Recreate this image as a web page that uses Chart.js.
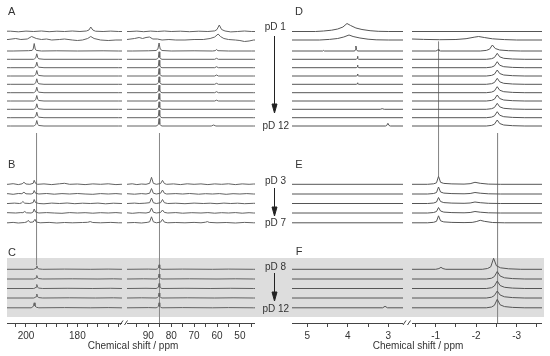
<!DOCTYPE html>
<html>
<head>
<meta charset="utf-8">
<script src="https://cdn.jsdelivr.net/npm/chart.js@4.4.0/dist/chart.umd.min.js"></script>
<style>
  body { margin: 0; background: #fff; }
  #wrap { position: relative; width: 550px; height: 356px; overflow: hidden; font-family: "Liberation Sans", Arial, sans-serif; }
  #wrap canvas { position: absolute; top: 0; }
  #band { position: absolute; left: 7px; top: 257.5px; width: 537px; height: 59px; background: #dddddd; }
  #notes { position: absolute; left: 0; top: 0; }
  #notes text { font-family: "Liberation Sans", Arial, sans-serif; fill: #333; }
</style>
</head>
<body>
<div id="wrap">
  <div id="band"></div>
  <canvas id="c13a" width="115" height="356" style="left:7px"></canvas>
  <canvas id="c13b" width="128" height="356" style="left:127px"></canvas>
  <canvas id="h1a" width="111" height="356" style="left:292px"></canvas>
  <canvas id="h1b" width="130" height="356" style="left:412px"></canvas>
  <svg id="notes" width="550" height="356">
    <g font-size="11">
      <text x="11.7" y="10.7" text-anchor="middle" dominant-baseline="central">A</text>
      <text x="11.7" y="164" text-anchor="middle" dominant-baseline="central">B</text>
      <text x="12" y="252.3" text-anchor="middle" dominant-baseline="central">C</text>
      <text x="299" y="10.7" text-anchor="middle" dominant-baseline="central">D</text>
      <text x="299" y="164" text-anchor="middle" dominant-baseline="central">E</text>
      <text x="299" y="251" text-anchor="middle" dominant-baseline="central">F</text>
    </g>
    <g font-size="10" text-anchor="middle" dominant-baseline="central">
      <text x="275.3" y="26.3">pD 1</text>
      <text x="275.8" y="125.7">pD 12</text>
      <text x="275.5" y="180">pD 3</text>
      <text x="275.5" y="222.7">pD 7</text>
      <text x="275.5" y="266">pD 8</text>
      <text x="275.8" y="308.3">pD 12</text>
      <text x="133" y="345">Chemical shift / ppm</text>
      <text x="418" y="345">Chemical shift / ppm</text>
    </g>
    <g stroke="#222" stroke-width="1" fill="#222">
      <line x1="274.5" y1="36" x2="274.5" y2="105"/>
      <polygon points="272,104 277,104 274.5,113"/>
      <line x1="274.5" y1="188" x2="274.5" y2="208"/>
      <polygon points="272,207 277,207 274.5,216"/>
      <line x1="274.5" y1="273" x2="274.5" y2="293"/>
      <polygon points="272,292 277,292 274.5,301"/>
    </g>
    <g stroke="#444" stroke-width="1">
      <line x1="120" y1="325" x2="123" y2="320.5"/>
      <line x1="124.5" y1="325" x2="127.5" y2="320.5"/>
      <line x1="403" y1="325" x2="406" y2="320.5"/>
      <line x1="407.5" y1="325" x2="410.5" y2="320.5"/>
    </g>
  </svg>
</div>
<script>
// DATA: each trace is a list of [ppm, intensity] points
const c13PanelA = [
  [[206,0.3],[203,-0.3],[200,0.4],[197,0],[194,0.5],[191,-0.2],[188,0.3],[185,0],[182,0.5],[179,0],[176.5,0.5],[175.5,1.5],[174.8,4.5],[174,1.5],[173,0.3],[170,0],[167,0.4],[164,0],
   [98,0],[95,0.4],[92,-0.2],[89,0.4],[86,0],[83,0.5],[80,0],[76,0.3],[72,-0.2],[68,0.3],[64,0],[61,0.6],[60,2],[59,6.5],[58,2],[56.5,0.5],[54,-0.4],[51,0],[48,0.5],[45,0]],
  [[207,0.5],[204,1.5],[202,0.5],[199.5,1],[197.8,3.5],[196,1.5],[194,0.5],[192,1],[190,0],[187,0.5],[185,1],[182,0],[180,-0.5],[178,0],[176,1.5],[174.8,3.5],[173.5,1.5],[171,0],[168,-0.5],[165,0],
   [99,0.5],[96,1.5],[94,2.5],[92.5,1.5],[91,2.5],[89.5,3],[88,1],[86,1],[84,0],[81,0.5],[78,0],[74,0],[70,0.5],[66,0.5],[63,1.5],[61,3],[59.5,6],[58.5,3.5],[57,1.5],[55,0.5],[52,0],[50,-0.5],[48,-1.5],[46,-1],[44,0]],
  [[205,0],[199,0.3],[197.6,0.6],[197.2,2],[196.8,7.5],[196.4,2],[196,0.6],[194,0],[188,0.2],[180,0],[170,0.2],[164,0],
   [97,0],[90,0.2],[86.6,0.5],[85.8,2],[85.3,8],[84.8,2],[84,0.5],[80,0],[70,0.2],[62,0],[60.8,0.3],[60.2,1.5],[59.6,0.3],[55,0],[45,0]],
  [[206,0],[197,0],[196.6,0.6],[196.2,1.5],[195.8,5.5],[195.4,1.5],[195,0.5],[193,0],[164,0],
   [98,0],[86.6,0],[86,0.6],[85.6,1.8],[85.3,7.5],[85,1.8],[84.6,0.6],[84,0],[61,0],[60.2,1],[59.4,0],[44,0]],
  [[206,0],[197,0],[196.6,0.6],[196.2,1.5],[195.8,5.5],[195.4,1.5],[195,0.5],[193,0],[164,0],
   [98,0],[86.6,0],[86,0.6],[85.6,1.8],[85.3,7.5],[85,1.8],[84.6,0.6],[84,0],[61,0],[60.2,1],[59.4,0],[44,0]],
  [[206,0],[197,0],[196.6,0.6],[196.2,1.5],[195.8,5.5],[195.4,1.5],[195,0.5],[193,0],[164,0],
   [98,0],[86.6,0],[86,0.6],[85.6,1.8],[85.3,7.5],[85,1.8],[84.6,0.6],[84,0],[61,0],[60.2,1],[59.4,0],[44,0]],
  [[206,0],[197,0],[196.6,0.6],[196.2,1.5],[195.8,5.5],[195.4,1.5],[195,0.5],[193,0],[164,0],
   [98,0],[86.6,0],[86,0.6],[85.6,1.8],[85.3,7.5],[85,1.8],[84.6,0.6],[84,0],[61,0],[60.2,1],[59.4,0],[44,0]],
  [[206,0],[197,0],[196.6,0.6],[196.2,1.5],[195.8,5.5],[195.4,1.5],[195,0.5],[193,0],[164,0],
   [98,0],[86.6,0],[86,0.6],[85.6,1.8],[85.3,7.5],[85,1.8],[84.6,0.6],[84,0],[61,0],[60.2,1],[59.4,0],[44,0]],
  [[206,0],[197,0],[196.6,0.6],[196.2,1.5],[195.8,5.5],[195.4,1.5],[195,0.5],[193,0],[164,0],
   [98,0],[86.6,0],[86,0.6],[85.6,1.8],[85.3,7.5],[85,1.8],[84.6,0.6],[84,0],[61,0],[60.2,0.8],[59.4,0],[44,0]],
  [[206,0],[197,0],[196.6,0.6],[196.2,1.5],[195.8,5.5],[195.4,1.5],[195,0.5],[193,0],[164,0],
   [98,0],[86.6,0],[86,0.6],[85.6,1.8],[85.3,7.5],[85,1.8],[84.6,0.6],[84,0],[44,0]],
  [[206,0],[197,0],[196.6,0.6],[196.2,1.5],[195.8,5.5],[195.4,1.5],[195,0.5],[193,0],[164,0],
   [98,0],[86.6,0],[86,0.6],[85.6,1.8],[85.3,7.5],[85,1.8],[84.6,0.6],[84,0],[44,0]],
  [[206,0],[197,0],[196.6,0.6],[196.2,1.5],[195.8,5.5],[195.4,1.5],[195,0.5],[193,0],[164,0],
   [98,0],[86.6,0],[86,0.6],[85.6,1.8],[85.3,7.5],[85,1.8],[84.6,0.6],[84,0],[62.5,0],[61.5,1],[60.5,0],[44,0]]
];
const c13PanelB = [
  [[207,0],[205,0.6],[203,-0.3],[201.5,0.5],[200.8,2],[200,0.3],[198.5,0],[197.2,1],[196.8,4],[196.3,1],[195.5,0],[193,0.4],[190,-0.3],[187,0.5],[185,1],[183,0],[180,0.3],[177,-0.3],[174,0.4],[171,0],[168,0.5],[165,-0.3],[163,0],
   [99,0],[97,0.5],[95,-0.3],[93,0.3],[91,0],[89.4,1],[88.6,7],[87.8,1],[86.5,0],[84.6,0.8],[83.8,4],[83,0.8],[82,0],[79,0.4],[76,-0.3],[73,0.5],[70,0],[67,0.4],[64,-0.3],[61,0.4],[58,0],[55,0.5],[52,-0.3],[49,0.4],[46,0],[44,0.3]],
  [[207,0.3],[205,-0.3],[203,0.5],[201.6,0.3],[200.8,1.8],[200,0.2],[198,0],[197.2,0.8],[196.8,3.5],[196.3,0.8],[195,0],[192,0.5],[189,-0.2],[186,0.4],[183,0],[180,0.5],[177,0],[174,-0.3],[171,0.4],[168,0],[165,0.4],[163,0],
   [99,0.3],[96,-0.2],[93,0.4],[91,0],[89.4,0.8],[88.6,5.5],[87.8,0.8],[86.5,0],[84.6,0.8],[83.8,4],[83,0.8],[82,0],[78,0.4],[75,0],[72,0.5],[68,-0.2],[65,0.3],[62,0],[59,0.4],[56,-0.3],[53,0.3],[50,0],[47,0.4],[44,0]],
  [[207,0],[204.5,0.4],[202.5,0],[201.8,0.5],[201.2,2],[200.5,0.3],[198.5,0],[197.2,1],[196.8,4],[196.3,1],[195,0],[193,-0.3],[190,0.4],[187,0],[184,0.5],[181,-0.2],[178,0.3],[175,0],[172,0.4],[169,-0.3],[166,0.3],[163,0],
   [99,0],[96,0.4],[94,0],[91.5,0.3],[89.4,0.8],[88.6,5.5],[87.8,0.8],[86.5,0],[84.6,0.8],[83.8,4],[83,0.8],[81.5,0],[78,0.3],[74,-0.2],[70,0.4],[66,0],[63,0.3],[60,-0.2],[57,0.4],[54,0],[51,0.3],[48,-0.2],[44,0.2]],
  [[207,0.3],[204,0],[202,0.4],[201.2,0.3],[200.5,1.5],[199.8,0.2],[198,0],[197.2,1],[196.8,4],[196.3,1],[195,0],[192,0.4],[189,0],[186,-0.3],[183,0.4],[180,0],[177,0.3],[174,-0.2],[171,0.3],[168,0],[165,0.4],[163,0],
   [99,0.2],[97,-0.3],[94,0.3],[91,0],[89.4,0.8],[88.6,5],[87.8,0.8],[86.5,0],[84.6,0.6],[83.8,3],[83,0.6],[81.5,0],[78,0.4],[75,-0.2],[71,0.3],[67,0],[64,0.4],[61,-0.2],[58,0.3],[55,0],[52,0.4],[49,-0.2],[46,0.3],[44,0]],
  [[207,0],[205,0.4],[203,-0.2],[200.5,0.3],[199.6,1],[199.1,2.5],[198.5,0.5],[197.2,0.8],[196.5,3.5],[196,0.8],[194.5,0],[191,0.4],[188,-0.2],[185,0.3],[182,0],[178,0.3],[176,0.5],[175,1.2],[174,0.3],[171,0],[167,0.4],[164,0],
   [99,0],[96,0.3],[93,-0.2],[90.5,0.4],[89.4,1],[88.6,6],[87.8,1],[86.5,0],[84.6,0.7],[83.8,3.5],[83,0.7],[81.5,0],[78,0.3],[74,0],[70,0.4],[67,0],[65,0.6],[64.2,1.2],[63.4,0.4],[60,0],[56,0.3],[52,-0.2],[48,0.4],[44,0]]
];
const c13PanelC = [
  [[207,0],[197,0],[196.5,0.5],[196.1,1.2],[195.8,3.5],[195.5,1.2],[195,0.4],[193.5,0],[185,0.2],[175,0],[168,0.2],[163,0],
   [99,0],[90,0.2],[86.6,0],[86,0.5],[85.6,1.4],[85.3,4.5],[85,1.4],[84.6,0.5],[84,0],[75,0.2],[62,0],[55,0.2],[44,0]],
  [[207,0],[197,0],[196.5,0.5],[196.1,1.2],[195.8,3.5],[195.5,1.2],[195,0.4],[193.5,0],[182,0.2],[172,0],[166,0.2],[163,0],
   [99,0],[92,0.2],[86.6,0],[86,0.5],[85.6,1.5],[85.3,5],[85,1.5],[84.6,0.5],[84,0],[72,0.2],[60,0],[52,0.2],[44,0]],
  [[207,0],[197,0],[196.5,0.5],[196.1,1.3],[195.8,4],[195.5,1.3],[195,0.4],[193.5,0],[184,0.2],[174,0],[167,0.2],[163,0],
   [99,0],[91,0.2],[86.6,0],[86,0.5],[85.6,1.5],[85.3,5],[85,1.5],[84.6,0.5],[84,0],[74,0.2],[63,0],[54,0.2],[44,0]],
  [[207,0],[197,0],[196.5,0.5],[196.1,1.3],[195.8,4],[195.5,1.3],[195,0.4],[193.5,0],[183,0.2],[173,0],[166,0.2],[163,0],
   [99,0],[93,0.2],[86.6,0],[86,0.5],[85.6,1.5],[85.3,5],[85,1.5],[84.6,0.5],[84,0],[73,0.2],[61,0],[53,0.2],[44,0]],
  [[207,0],[198,0],[197.4,0.8],[197.1,2],[196.8,5],[196.5,1.8],[196,0.6],[195,0],[185,0.2],[175,0],[168,0.2],[163,0],
   [99,0],[90,0.2],[86.6,0],[86,0.5],[85.6,1.5],[85.3,5],[85,1.5],[84.6,0.5],[84,0],[75,0.2],[62,0],[55,0.2],[44,0]]
];

const h1PanelD = [
  [[4.8,0],[4.6,0.5],[4.4,1.3],[4.25,2.5],[4.12,4.5],[4.02,8],[3.93,6],[3.8,3.5],[3.65,2],[3.45,0.8],[3.25,0.2],[3.0,0]],
  [[4.7,0],[4.45,0.6],[4.25,1.5],[4.1,3],[3.97,5],[3.87,3.5],[3.7,2],[3.5,0.8],[3.3,0.2],[3.0,0],
   [-0.42,1],[-0.7,0.6],[-1.1,0.3],[-1.5,0.5],[-1.75,1.3],[-1.95,2.8],[-2.06,3.5],[-2.2,2.5],[-2.4,1.2],[-2.7,0.4],[-3.0,0]],
  [[4.62,0],[4.6,0.6],[4.58,0],[3.83,0],[3.81,1.5],[3.8,5],[3.785,1.5],[3.76,0],
   [-1.0,0],[-1.04,0.5],[-1.06,1.5],[-1.08,0.5],[-1.12,0],[-2.1,0],[-2.25,0.6],[-2.33,1.8],[-2.4,6],[-2.47,2.5],[-2.58,1],[-2.8,0.3],[-3.1,0]],
  [[3.79,0],[3.77,1],[3.76,3],[3.75,1],[3.73,0],
   [-2.25,0],[-2.38,0.6],[-2.45,1.8],[-2.52,6],[-2.58,2.5],[-2.68,1],[-2.9,0.3],[-3.2,0]],
  [[3.79,0],[3.77,0.8],[3.76,2.5],[3.75,0.8],[3.73,0],
   [-2.25,0],[-2.38,0.6],[-2.45,1.8],[-2.52,6],[-2.58,2.5],[-2.68,1],[-2.9,0.3],[-3.2,0]],
  [[3.79,0],[3.77,0.7],[3.76,2],[3.75,0.7],[3.73,0],
   [-2.25,0],[-2.38,0.6],[-2.45,1.8],[-2.52,6],[-2.58,2.5],[-2.68,1],[-2.9,0.3],[-3.2,0]],
  [[3.79,0],[3.77,0.5],[3.76,1.5],[3.75,0.5],[3.73,0],
   [-2.25,0],[-2.38,0.6],[-2.45,1.8],[-2.52,6],[-2.58,2.5],[-2.68,1],[-2.9,0.3],[-3.2,0]],
  [[-2.25,0],[-2.38,0.6],[-2.45,1.8],[-2.52,6],[-2.58,2.5],[-2.68,1],[-2.9,0.3],[-3.2,0]],
  [[-2.25,0],[-2.38,0.6],[-2.45,1.8],[-2.52,6],[-2.58,2.5],[-2.68,1],[-2.9,0.3],[-3.2,0]],
  [[3.2,0],[3.15,0.6],[3.1,0],
   [-2.25,0],[-2.38,0.6],[-2.45,1.8],[-2.52,6],[-2.58,2.5],[-2.68,1],[-2.9,0.3],[-3.2,0]],
  [[-2.25,0],[-2.38,0.6],[-2.45,1.8],[-2.52,6],[-2.58,2.5],[-2.68,1],[-2.9,0.3],[-3.2,0]],
  [[3.07,0],[3.04,0.5],[3.01,2.7],[2.98,0.5],[2.95,0],
   [-2.25,0],[-2.38,0.6],[-2.45,1.8],[-2.52,6],[-2.58,2.5],[-2.68,1],[-2.9,0.3],[-3.2,0]]
];
const h1PanelE = [
  [[-0.8,0],[-0.95,0.5],[-1.02,1.5],[-1.07,8],[-1.12,2],[-1.2,0.9],[-1.4,0.4],[-1.7,0.2],[-1.85,0.6],[-1.97,2],[-2.1,1],[-2.3,0.2],[-2.6,0]],
  [[-0.8,0],[-0.95,0.5],[-1.02,1.5],[-1.07,7],[-1.12,2],[-1.2,0.9],[-1.4,0.4],[-1.7,0.2],[-1.85,0.5],[-1.97,1.5],[-2.1,0.8],[-2.3,0.2],[-2.6,0]],
  [[-0.8,0],[-0.95,0.5],[-1.02,1.5],[-1.07,6],[-1.12,2],[-1.2,0.9],[-1.4,0.4],[-1.7,0.2],[-1.85,0.5],[-1.97,1.5],[-2.1,0.8],[-2.3,0.2],[-2.6,0]],
  [[-0.8,0],[-0.95,0.5],[-1.02,1.5],[-1.07,5.5],[-1.12,2],[-1.2,0.9],[-1.4,0.4],[-1.7,0.2],[-1.85,0.5],[-1.97,1.5],[-2.1,0.8],[-2.3,0.2],[-2.6,0]],
  [[-0.8,0],[-0.95,0.5],[-1.02,1.5],[-1.07,7],[-1.12,2],[-1.2,0.9],[-1.4,0.4],[-1.7,0.2],[-1.9,0.4],[-2.0,1.2],[-2.1,2.5],[-2.2,1.5],[-2.4,0.3],[-2.7,0]]
];
const h1PanelF = [
  [[-1.0,0],[-1.08,0.7],[-1.13,2],[-1.18,0.7],[-1.25,0],[-2.15,0],[-2.28,0.8],[-2.36,2.5],[-2.43,11],[-2.5,3.5],[-2.6,1.5],[-2.8,0.5],[-3.1,0]],
  [[-2.25,0],[-2.38,0.8],[-2.45,2.5],[-2.52,7.5],[-2.59,3],[-2.7,1.2],[-2.9,0.4],[-3.2,0]],
  [[-2.25,0],[-2.38,0.8],[-2.45,2.5],[-2.52,7.5],[-2.59,3],[-2.7,1.2],[-2.9,0.4],[-3.2,0]],
  [[-2.25,0],[-2.38,0.8],[-2.45,2.5],[-2.52,7],[-2.59,3],[-2.7,1.2],[-2.9,0.4],[-3.2,0]],
  [[3.14,0],[3.08,1.5],[3.02,0],
   [-2.25,0],[-2.38,0.8],[-2.45,2.5],[-2.52,8.5],[-2.59,3],[-2.7,1.2],[-2.9,0.4],[-3.2,0]]
];

const c13TickLabels = [200, 180, 90, 80, 70, 60, 50];
const h1TickLabels = [5, 4, 3, -1, -2, -3];
const c13Guides = [195.9, 85.11];
const h1Guides = [-1.07, -2.527];

// LAYOUT (pixel rows of each stacked trace, axis line position)
const AXIS_Y = 323;
const ROWS_TOP = [31.5, 40, 51, 59.3, 67.7, 76, 84.3, 92.7, 101, 109.3, 117.7, 126];
const ROWS_MID = [184.3, 194, 203.5, 213, 222.8];
const ROWS_LOW = [269.3, 279, 288.5, 298, 307.8];
const GUIDE_SPANS = { c13: [[133, 265], [133, AXIS_Y]], h1: [[41.7, 176], [133, AXIS_Y]] };

const segments = [
  { id: 'c13a', nuc: 'c13', max: 207.39, min: 162.64, step: 4 },
  { id: 'c13b', nuc: 'c13', max: 99.3, min: 43.41, step: 5 },
  { id: 'h1a', nuc: 'h1', max: 5.378, min: 2.637, step: 0.5 },
  { id: 'h1b', nuc: 'h1', max: -0.415, min: -3.625, step: 0.5 }
];

const FONT = '"Liberation Sans", Arial, sans-serif';

// FUNCTIONS
function clipToSegment(trace, seg) {
  let pts = trace.filter(p => p[0] <= seg.max && p[0] >= seg.min);
  if (!pts.length) return [[seg.max, 0], [seg.min, 0]];
  if (pts[0][0] < seg.max) pts.unshift([seg.max, pts[0][1]]);
  if (pts[pts.length - 1][0] > seg.min) pts.push([seg.min, pts[pts.length - 1][1]]);
  return pts;
}

function traceDatasets(panel, rows, seg, color) {
  return panel.map((trace, i) => ({
    data: clipToSegment(trace, seg).map(p => ({ x: p[0], y: AXIS_Y - rows[i] + p[1] })),
    borderColor: color,
    borderWidth: 1
  }));
}

segments.forEach(seg => {
  let datasets = [];
  const isC = seg.nuc === 'c13';
  const color = isC ? '#626262' : '#555555';

  // vertical guide lines (drawn first, under the traces)
  const guides = isC ? c13Guides : h1Guides;
  guides.forEach((ppm, k) => {
    if (ppm > seg.max || ppm < seg.min) return;
    const span = GUIDE_SPANS[seg.nuc][k];
    datasets.push({
      data: [{ x: ppm, y: AXIS_Y - span[0] }, { x: ppm, y: AXIS_Y - span[1] }],
      borderColor: '#8a8a8a',
      borderWidth: 1,
      order: 10
    });
  });

  const panels = isC ? [c13PanelA, c13PanelB, c13PanelC] : [h1PanelD, h1PanelE, h1PanelF];
  datasets = datasets.concat(traceDatasets(panels[0], ROWS_TOP, seg, color));
  datasets = datasets.concat(traceDatasets(panels[1], ROWS_MID, seg, color));
  datasets = datasets.concat(traceDatasets(panels[2], ROWS_LOW, seg, color));

  const labels = isC ? c13TickLabels : h1TickLabels;

  new Chart(document.getElementById(seg.id), {
    type: 'line',
    data: { datasets: datasets },
    options: {
      responsive: false,
      animation: false,
      events: [],
      layout: { padding: 0 },
      plugins: { legend: { display: false }, tooltip: { enabled: false } },
      elements: { point: { radius: 0 }, line: { tension: 0 } },
      scales: {
        x: {
          type: 'linear',
          reverse: true,
          min: seg.min,
          max: seg.max,
          afterFit: s => { s.height = 356 - AXIS_Y; },
          grid: { drawOnChartArea: false, drawTicks: true, tickLength: 4, color: '#444' },
          border: { display: true, color: '#444', width: 1 },
          ticks: {
            stepSize: seg.step,
            includeBounds: false,
            autoSkip: false,
            maxRotation: 0,
            padding: 3,
            color: '#333',
            font: { family: FONT, size: 10 },
            callback: v => labels.some(l => Math.abs(l - v) < 1e-6) ? String(v) : ''
          }
        },
        y: { display: false, min: 0, max: AXIS_Y }
      }
    }
  });
});
</script>
</body>
</html>
